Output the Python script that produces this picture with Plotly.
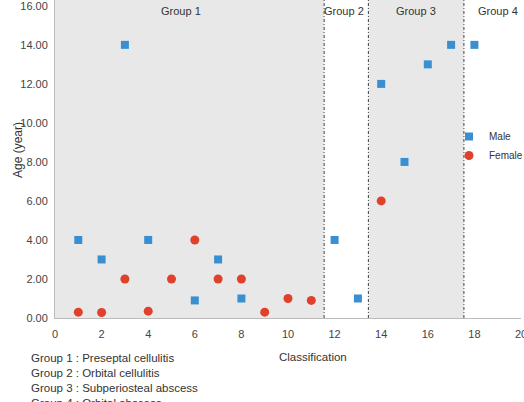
import plotly.graph_objects as go

male_x = [1, 2, 3, 4, 6, 7, 8, 12, 13, 14, 15, 16, 17, 18]
male_y = [4, 3, 14, 4, 0.9, 3, 1, 4, 1, 12, 8, 13, 14, 14]
female_x = [1, 2, 3, 4, 5, 6, 7, 8, 9, 10, 11, 14]
female_y = [0.3, 0.28, 2, 0.35, 2, 4, 2, 2, 0.3, 1, 0.9, 6]

group_bounds = [0, 11.55, 13.45, 17.55, 20]
group_names = ["Group 1", "Group 2", "Group 3", "Group 4"]
group_shaded = [True, False, True, False]
group_label_x = [5.4, 12.4, 15.5, 19.0]
legend_lines = ["Group 1 : Preseptal cellulitis", "Group 2 : Orbital cellulitis",
                "Group 3 : Subperiosteal abscess", "Group 4 : Orbital abscess"]

YMAX = 16.3
FONT = "Liberation Sans, Arial, sans-serif"

W, H = 524, 402
ml, mr, mt, mb = 55, 3, 0, 84
pw, ph = W - ml - mr, H - mt - mb

def px(xp):
    return (xp - ml) / pw

def py(yp):
    return (H - mb - yp) / ph

fig = go.Figure()
fig.add_trace(go.Scatter(x=male_x, y=male_y, mode="markers", name="Male",
                         marker=dict(symbol="square", size=8, color="#3A8FD0")))
fig.add_trace(go.Scatter(x=female_x, y=female_y, mode="markers", name="Female",
                         marker=dict(symbol="circle", size=9, color="#E0412B")))

shapes = []
for i in range(4):
    if group_shaded[i]:
        shapes.append(dict(type="rect", xref="x", yref="y", x0=group_bounds[i], x1=group_bounds[i+1],
                           y0=0, y1=YMAX, fillcolor="#E8E8E8", line=dict(width=0), layer="below"))
for b in group_bounds[1:4]:
    shapes.append(dict(type="line", xref="x", yref="y", x0=b, x1=b, y0=0, y1=YMAX,
                       line=dict(color="#444444", width=1, dash="3px,2px,1px,2px")))

annotations = []
for name, gx in zip(group_names, group_label_x):
    annotations.append(dict(x=gx, y=15.75, xref="x", yref="y", text=name, showarrow=False,
                            font=dict(size=11, color="#333333", family=FONT)))
for i, t in enumerate(legend_lines):
    annotations.append(dict(x=px(29), y=py(358 + 15 * i), xref="paper", yref="paper", text=t,
                            showarrow=False, xanchor="left", yanchor="middle",
                            font=dict(size=11.5, color="#333333", family=FONT)))
annotations.append(dict(x=px(313), y=py(357), xref="paper", yref="paper",
                        text="Classification", showarrow=False, xanchor="center", yanchor="middle",
                        font=dict(size=11.5, color="#333333", family=FONT)))
annotations.append(dict(x=px(18), y=py(150), xref="paper", yref="paper",
                        text="Age (year)", showarrow=False, textangle=-90,
                        xanchor="center", yanchor="middle",
                        font=dict(size=12, color="#333333", family=FONT)))

fig.update_layout(
    width=W, height=H,
    margin=dict(l=ml, r=mr, t=mt, b=mb, autoexpand=False),
    plot_bgcolor="white", paper_bgcolor="white",
    font=dict(family=FONT, size=11, color="#444444"),
    shapes=shapes, annotations=annotations,
    showlegend=True,
    legend=dict(x=px(449), y=py(122), xanchor="left", yanchor="top",
                bgcolor="rgba(0,0,0,0)", font=dict(size=10, color="#333333", family=FONT),
                itemwidth=30, tracegroupgap=0),
    xaxis=dict(range=[0, 20], tickvals=list(range(0, 21, 2)), showgrid=False, zeroline=False,
               showline=True, linecolor="#BBBBBB", linewidth=1, ticks="", automargin=False,
               ticklabeloverflow="allow", ticklabelstandoff=6,
               tickfont=dict(size=11, color="#444444")),
    yaxis=dict(range=[0, YMAX], tickvals=list(range(0, 17, 2)),
               ticktext=[f"{v:.2f}" for v in range(0, 17, 2)], showgrid=False, zeroline=False,
               showline=True, linecolor="#BBBBBB", linewidth=1, ticks="", automargin=False,
               ticklabeloverflow="allow", ticklabelstandoff=4,
               tickfont=dict(size=11, color="#444444")),
)

fig.write_html("out.html")
